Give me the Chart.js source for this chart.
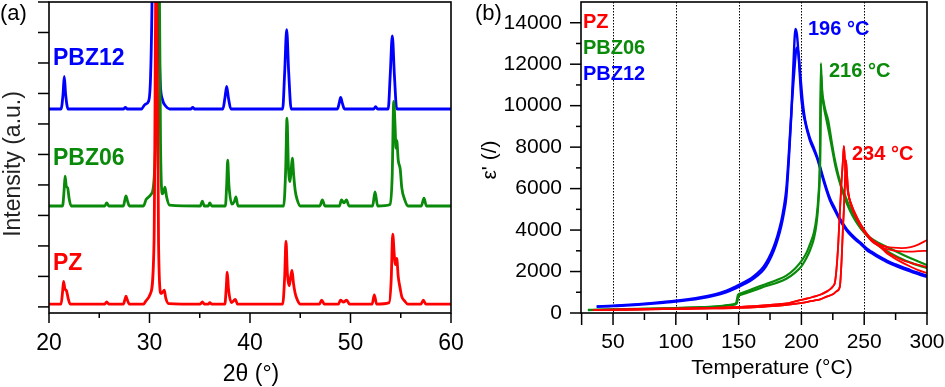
<!DOCTYPE html>
<html>
<head>
<meta charset="utf-8">
<script src="https://cdn.jsdelivr.net/npm/chart.js@4.4.1/dist/chart.umd.min.js"></script>
<style>
  html, body { margin: 0; padding: 0; background: #fff; }
  #wrap { position: relative; width: 945px; height: 387px; overflow: hidden; }
  canvas { position: absolute; top: 0; }
  #ca { left: 0; }
  #cb { left: 470px; }
</style>
</head>
<body>
<div id="wrap">
  <canvas id="ca" width="470" height="387"></canvas>
  <canvas id="cb" width="475" height="387"></canvas>
</div>
<script>
// ---------------- Panel (a): XRD patterns, [2theta, relative intensity] ----------------
const xrdOffsets = { PZ: 0.09, PBZ06: 3.31, PBZ12: 6.49 };

const xrdPZ = [[20,0],[21.2,0],[21.35,0.4],[21.45,0.75],[21.57,0.52],[21.75,0.43],[21.9,0.2],[22.1,0],
  [25.55,0],[25.74,0.07],[25.95,0],[27.4,0],[27.55,0.15],[27.66,0.26],[27.78,0.15],[28.0,0],
  [29.4,0],[29.7,0.13],[30.1,0.35],[30.45,2],[30.68,12],[30.9,2],[31.15,0.35],[31.33,0.4],[31.47,0.46],[31.62,0.2],[31.9,0.02],
  [35.05,0],[35.26,0.07],[35.45,0],[35.85,0],[36.0,0.05],[36.2,0],
  [37.5,0],[37.63,0.5],[37.74,1.05],[37.86,0.5],[38.15,0.05],[38.4,0.12],[38.54,0.16],[38.75,0],
  [43.25,0],[43.45,0.9],[43.58,2.07],[43.72,1.0],[43.9,0.6],[44.05,0.9],[44.18,1.11],[44.32,0.7],[44.5,0.35],[44.7,0.15],[45.0,0],
  [46.9,0],[47.13,0.13],[47.4,0],[48.8,0],[49.0,0.13],[49.3,0.07],[49.62,0.13],[49.9,0],
  [52.15,0],[52.37,0.3],[52.6,0],[53.85,0.05],[54.05,0.8],[54.2,2.3],[54.36,1.6],[54.45,1.3],[54.6,1.5],[54.75,0.9],[54.95,0.5],[55.1,0.25],[55.4,0.1],[55.7,0],
  [57.0,0],[57.25,0.13],[57.5,0],[60,0]];

const xrdPBZ06 = [[20,0],[21.35,0],[21.5,0.5],[21.6,0.98],[21.72,0.65],[21.86,0.59],[22.0,0.25],[22.2,0],
  [25.55,0],[25.74,0.1],[25.95,0],[27.4,0],[27.55,0.2],[27.66,0.33],[27.78,0.2],[28.0,0],
  [29.4,0],[29.7,0.23],[30.2,0.4],[30.6,2],[30.85,12],[31.1,2],[31.28,0.4],[31.4,0.45],[31.54,0.62],[31.7,0.3],[32.0,0.03],
  [35.05,0],[35.26,0.16],[35.45,0],[35.85,0],[36.0,0.1],[36.2,0],
  [37.55,0],[37.68,0.7],[37.78,1.5],[37.9,0.7],[38.2,0.06],[38.45,0.15],[38.6,0.3],[38.8,0],
  [43.35,0],[43.55,1.2],[43.68,2.88],[43.82,1.3],[43.98,0.8],[44.1,1.2],[44.21,1.57],[44.35,1.0],[44.5,0.5],[44.7,0.2],[45.0,0],
  [46.95,0],[47.2,0.2],[47.45,0],[48.9,0],[49.1,0.2],[49.35,0.1],[49.6,0.2],[49.85,0],
  [52.2,0],[52.44,0.46],[52.7,0],[53.95,0.05],[54.15,1.0],[54.3,3.43],[54.45,2.5],[54.52,1.9],[54.6,2.15],[54.75,1.5],[54.95,1.2],[55.1,0.6],[55.4,0.2],[55.7,0],
  [57.05,0],[57.31,0.26],[57.55,0],[60,0]];

const xrdPBZ12 = [[20,0],[21.2,0],[21.4,0.5],[21.52,1.07],[21.65,0.5],[21.9,0],
  [27.4,0],[27.6,0.05],[27.8,0],[29.2,0],[29.55,0.15],[29.9,0.25],[30.1,1.0],[30.25,3.5],[30.4,9],[30.6,14],[30.75,9],[30.9,3.5],[31.05,1.0],[31.3,0.3],[31.6,0.1],[32.0,0],
  [34.1,0],[34.3,0.05],[34.5,0],[37.3,0],[37.5,0.35],[37.68,0.74],[37.86,0.35],[38.1,0],
  [43.25,0],[43.45,1.2],[43.65,2.6],[43.85,1.2],[44.1,0],
  [48.7,0],[48.88,0.2],[49.02,0.38],[49.18,0.2],[49.4,0],
  [52.3,0],[52.5,0.08],[52.7,0],[53.75,0],[53.95,1.1],[54.16,2.4],[54.37,1.1],[54.6,0],[60,0]];

const xrdXTicks = [20, 30, 40, 50, 60];
const xrdXMinor = [25, 35, 45, 55];
const xrdYTicks = [0, 1, 2, 3, 4, 5, 6, 7, 8, 9, 10];

// ---------------- Panel (b): permittivity vs temperature ----------------
const pbz12A_T = [37,50,60,70,80,90,100,110,120,130,140,148,155,160,165,170,174,178,181,184,186,188,190,192,193.5,195.3,196.5,198,200,203,206.7,210,213,217,222.6,226.6,230.6,236,240,244,248,252,256,260,265,270,275,280,285,290,295,300];
const pbz12A_E = [300,330,365,400,445,495,550,620,710,830,1000,1200,1410,1580,1800,2100,2480,3000,3520,4200,4800,5600,7400,9600,11800,13700,13400,12200,10300,9200,8340,7850,7370,6500,5450,4950,4480,3980,3700,3480,3280,3040,2880,2730,2560,2400,2270,2150,2040,1930,1830,1740];
const pbz12B_T = [37,50,60,70,80,90,100,110,120,130,140,148,155,160,165,170,174,178,181,184,186,188,190,192,194,196.3,197.5,199,201,203,206.7,210,213,217,222.6,226.6,230.6,236,240,244,248,252,256,260,265,270,275,280,285,290,295,300];
const pbz12B_E = [320,350,390,430,475,530,590,665,760,890,1070,1290,1500,1680,1920,2250,2650,3200,3750,4450,5100,6000,7700,9700,11400,12800,12600,11600,10200,9300,8450,7950,7450,6600,5550,5050,4560,4050,3780,3550,3350,3110,2950,2800,2630,2470,2340,2220,2110,2000,1900,1800];

const pbz06A_T = [30,40,60,80,100,120,135,145,148,149.5,152,158,165,172,180,188,195,200,204,207,210,212,213.5,214.7,215.5,216.3,217.5,219,221.3,224,226.6,229,231.9,234.6,237.2,241,246.5,250,255,262,268,273,280,287,294,300];
const pbz06A_E = [150,165,185,210,240,280,330,410,480,870,950,1080,1250,1400,1580,1800,2150,2500,2900,3350,3900,4600,5600,7400,12050,10800,10270,9800,9300,8300,7400,6750,6090,5700,5290,4750,4160,3900,3620,3360,3180,3040,2830,2640,2460,2310];
const pbz06B_T = [30,40,60,80,100,120,135,145,148.5,150,152,158,165,172,180,188,195,200,204,207,210,212,213.5,215,215.8,216.8,218,220,222,224.5,227,230,233,236,239,243,247,252,258,265,272,280,287,294,300];
const pbz06B_E = [140,155,175,200,230,270,315,390,450,820,880,1000,1150,1300,1450,1650,1950,2250,2650,3050,3600,4300,5300,7500,11500,10400,9900,9300,8700,7900,7100,6400,5800,5300,4900,4450,4100,3750,3400,3100,2850,2600,2430,2280,2170];

// PZ: two rising branches and four high-temperature tails
const pzRiseA_T = [34,50,70,90,110,130,150,165,180,190,199,205,210,215,220,223,225,226.6,227.6,228.5,229.3,230,231,232,233,233.8,234.4,235,236,237.2,240,243.9,247,251.8,256,262];
const pzRiseA_E = [145,165,185,205,225,250,300,340,410,480,625,700,790,880,1030,1150,1280,1450,1900,2550,3300,4160,5300,6400,7300,8050,7600,7000,6400,5770,5200,4650,4300,3850,3550,3300];
const pzRiseB_T = [34,50,70,90,110,130,150,165,180,190,199,205,210,215,220,225,228,230.6,232,233,233.8,234.6,235.4,236.2,237.2,238.6,240,243.9,247,251.8,256,262];
const pzRiseB_E = [140,155,170,185,200,220,250,290,350,410,480,540,600,660,790,900,1050,1270,2550,4000,4960,6200,7370,6800,5900,5400,5100,4550,4200,3760,3470,3220];
const pzTail1_T = [268,273,280,287,293,300];
const pzTail1_E = [3190,3150,3130,3180,3300,3520];
const pzTail2_T = [268,273,280,287,293,300];
const pzTail2_E = [3080,3020,2970,2960,2980,3000];
const pzTail3_T = [268,273,280,287,293,300];
const pzTail3_E = [2950,2760,2560,2420,2320,2220];
const pzTail4_T = [268,273,280,287,293,300];
const pzTail4_E = [2880,2680,2440,2230,2070,1930];

const tXLabels = [50, 100, 150, 200, 250, 300];
const tXTicks = [25, 50, 100, 150, 200, 250, 300];
const tXMinor = [75, 125, 175, 225, 275];
const tYTicks = [0, 2000, 4000, 6000, 8000, 10000, 12000, 14000];
const tYMinor = [1000, 3000, 5000, 7000, 9000, 11000, 13000];
const tGrid = [50, 100, 150, 200, 250];

// ---------------- helpers ----------------
const RED = '#ff0000', GREEN = '#0a8a0a', BLUE = '#0000ff';
const FONT = '"Liberation Sans", Arial, Helvetica, sans-serif';

function xy(T, E) { return T.map((t, i) => ({ x: t, y: E[i] })); }
function pairs(p, off) { return p.map(d => ({ x: d[0], y: d[1] + off })); }

function line(data, color, width) {
  return { data, borderColor: color, backgroundColor: color, borderWidth: width,
    pointRadius: 0, fill: false, cubicInterpolationMode: 'monotone', tension: 0.4 };
}

const framePlugin = {
  id: 'frame',
  beforeDatasetsDraw(chart, args, o) {
    const { ctx, chartArea: a, scales } = chart;
    if (o.grid) {
      ctx.save();
      ctx.strokeStyle = '#000'; ctx.lineWidth = 1; ctx.setLineDash([1.5, 1.5]);
      o.grid.forEach(v => {
        const px = Math.round(scales.x.getPixelForValue(v)) + 0.5;
        ctx.beginPath(); ctx.moveTo(px, a.top); ctx.lineTo(px, a.bottom); ctx.stroke();
      });
      ctx.restore();
    }
  },
  afterDraw(chart, args, o) {
    const { ctx, chartArea: a, scales } = chart;
    ctx.save();
    ctx.strokeStyle = '#000'; ctx.lineWidth = 1.6;
    ctx.strokeRect(a.left, a.top, a.right - a.left, a.bottom - a.top);
    ctx.lineWidth = 1.5;
    const seg = (x1, y1, x2, y2) => { ctx.beginPath(); ctx.moveTo(x1, y1); ctx.lineTo(x2, y2); ctx.stroke(); };
    (o.xMajor || []).forEach(v => { const p = scales.x.getPixelForValue(v); seg(p, a.bottom, p, a.bottom + o.xMajorLen); });
    (o.xMinor || []).forEach(v => { const p = scales.x.getPixelForValue(v); seg(p, a.bottom, p, a.bottom + o.xMinorLen); });
    (o.yMajor || []).forEach(v => { const p = scales.y.getPixelForValue(v); seg(a.left - o.yMajorLen, p, a.left, p); });
    (o.yMinor || []).forEach(v => { const p = scales.y.getPixelForValue(v); seg(a.left - o.yMinorLen, p, a.left, p); });
    (o.texts || []).forEach(t => {
      ctx.save();
      ctx.fillStyle = t.color || '#000';
      ctx.font = (t.bold ? 'bold ' : '') + t.size + 'px ' + FONT;
      ctx.textAlign = t.align || 'left';
      ctx.textBaseline = 'middle';
      ctx.translate(t.x, t.y);
      if (t.rot) ctx.rotate(t.rot);
      ctx.fillText(t.text, 0, 0);
      ctx.restore();
    });
    ctx.restore();
  }
};

function zeroPad(s) { s.paddingLeft = 0; s.paddingRight = 0; s.paddingTop = 0; s.paddingBottom = 0; }

function axisX(min, max, labels, size, pad, h) {
  return { type: 'linear', min, max, position: 'bottom',
    grid: { display: false, drawTicks: false }, border: { display: false },
    ticks: { padding: pad, color: '#000', maxRotation: 0, minRotation: 0, autoSkip: false,
      font: { family: FONT, size }, callback: v => String(v) },
    afterBuildTicks: s => { s.ticks = labels.map(v => ({ value: v })); },
    afterFit: s => { s.height = h; zeroPad(s); } };
}

// ---------------- Chart (a) ----------------
new Chart(document.getElementById('ca'), {
  type: 'line',
  data: { datasets: [
    line(pairs(xrdPZ, xrdOffsets.PZ), RED, 2.8),
    line(pairs(xrdPBZ06, xrdOffsets.PBZ06), GREEN, 2.8),
    line(pairs(xrdPBZ12, xrdOffsets.PBZ12), BLUE, 2.8)
  ] },
  options: {
    responsive: false, animation: false, devicePixelRatio: 1,
    layout: { padding: { left: 0, right: 19, top: 2, bottom: 0 } },
    plugins: { legend: { display: false }, tooltip: { enabled: false },
      frame: {
        xMajor: xrdXTicks, xMinor: xrdXMinor, xMajorLen: 10, xMinorLen: 5,
        yMajor: xrdYTicks, yMajorLen: 11,
        texts: [
          { text: '(a)', x: 0, y: 14, size: 22 },
          { text: 'Intensity (a.u.)', x: 14, y: 164, size: 23, align: 'center', rot: -Math.PI / 2, color: '#222' },
          { text: '2θ (°)', x: 251, y: 375, size: 23, align: 'center' },
          { text: 'PBZ12', x: 53, y: 59, size: 23, bold: true, color: BLUE },
          { text: 'PBZ06', x: 53, y: 159, size: 23, bold: true, color: GREEN },
          { text: 'PZ', x: 53, y: 264, size: 23, bold: true, color: RED }
        ]
      } },
    scales: {
      x: axisX(20, 60, xrdXTicks, 23, 17, 74),
      y: { type: 'linear', min: -0.2, max: 10,
        grid: { display: false, drawTicks: false }, border: { display: false },
        ticks: { display: false },
        afterFit: s => { s.width = 49; zeroPad(s); } }
    }
  },
  plugins: [framePlugin]
});

// ---------------- Chart (b) ----------------
const pzData = [
  xy(pzRiseA_T.concat(pzTail1_T), pzRiseA_E.concat(pzTail1_E)),
  xy(pzRiseB_T.concat(pzTail2_T), pzRiseB_E.concat(pzTail2_E)),
  xy(pzRiseA_T.concat(pzTail3_T), pzRiseA_E.concat(pzTail3_E)),
  xy(pzRiseB_T.concat(pzTail4_T), pzRiseB_E.concat(pzTail4_E))
];

new Chart(document.getElementById('cb'), {
  type: 'line',
  data: { datasets: [
    line(pzData[0], RED, 1.8),
    line(pzData[1], RED, 1.8),
    line(pzData[2], RED, 1.8),
    line(pzData[3], RED, 1.8),
    line(xy(pbz06A_T, pbz06A_E), GREEN, 2.2),
    line(xy(pbz06B_T, pbz06B_E), GREEN, 2.2),
    line(xy(pbz12A_T, pbz12A_E), BLUE, 2.4),
    line(xy(pbz12B_T, pbz12B_E), BLUE, 2.4)
  ] },
  options: {
    responsive: false, animation: false, devicePixelRatio: 1,
    layout: { padding: { left: 0, right: 18, top: 2, bottom: 0 } },
    plugins: { legend: { display: false }, tooltip: { enabled: false },
      frame: {
        grid: tGrid,
        xMajor: tXTicks, xMinor: tXMinor, xMajorLen: 12, xMinorLen: 7,
        yMajor: tYTicks, yMinor: tYMinor, yMajorLen: 11, yMinorLen: 5,
        texts: [
          { text: '(b)', x: 5, y: 14, size: 22 },
          { text: "ε' (/)", x: 20, y: 160, size: 21, align: 'center', rot: -Math.PI / 2 },
          { text: 'Temperature (°C)', x: 302, y: 368, size: 21, align: 'center' },
          { text: 'PZ', x: 113, y: 22, size: 20, bold: true, color: RED },
          { text: 'PBZ06', x: 113, y: 48, size: 20, bold: true, color: GREEN },
          { text: 'PBZ12', x: 113, y: 74, size: 20, bold: true, color: BLUE },
          { text: '196 °C', x: 338, y: 29, size: 20, bold: true, color: BLUE },
          { text: '216 °C', x: 359, y: 71, size: 20, bold: true, color: GREEN },
          { text: '234 °C', x: 382, y: 154, size: 20, bold: true, color: RED }
        ]
      } },
    scales: {
      x: axisX(24.5, 300, tXLabels, 21, 17, 74),
      y: { type: 'linear', min: 0, max: 15000,
        grid: { display: false, drawTicks: false }, border: { display: false },
        ticks: { padding: 19, color: '#000', autoSkip: false,
          font: { family: FONT, size: 21 }, callback: v => String(v) },
        afterBuildTicks: s => { s.ticks = tYTicks.map(v => ({ value: v })); },
        afterFit: s => { s.width = 111; zeroPad(s); } }
    }
  },
  plugins: [framePlugin]
});
</script>
</body>
</html>
